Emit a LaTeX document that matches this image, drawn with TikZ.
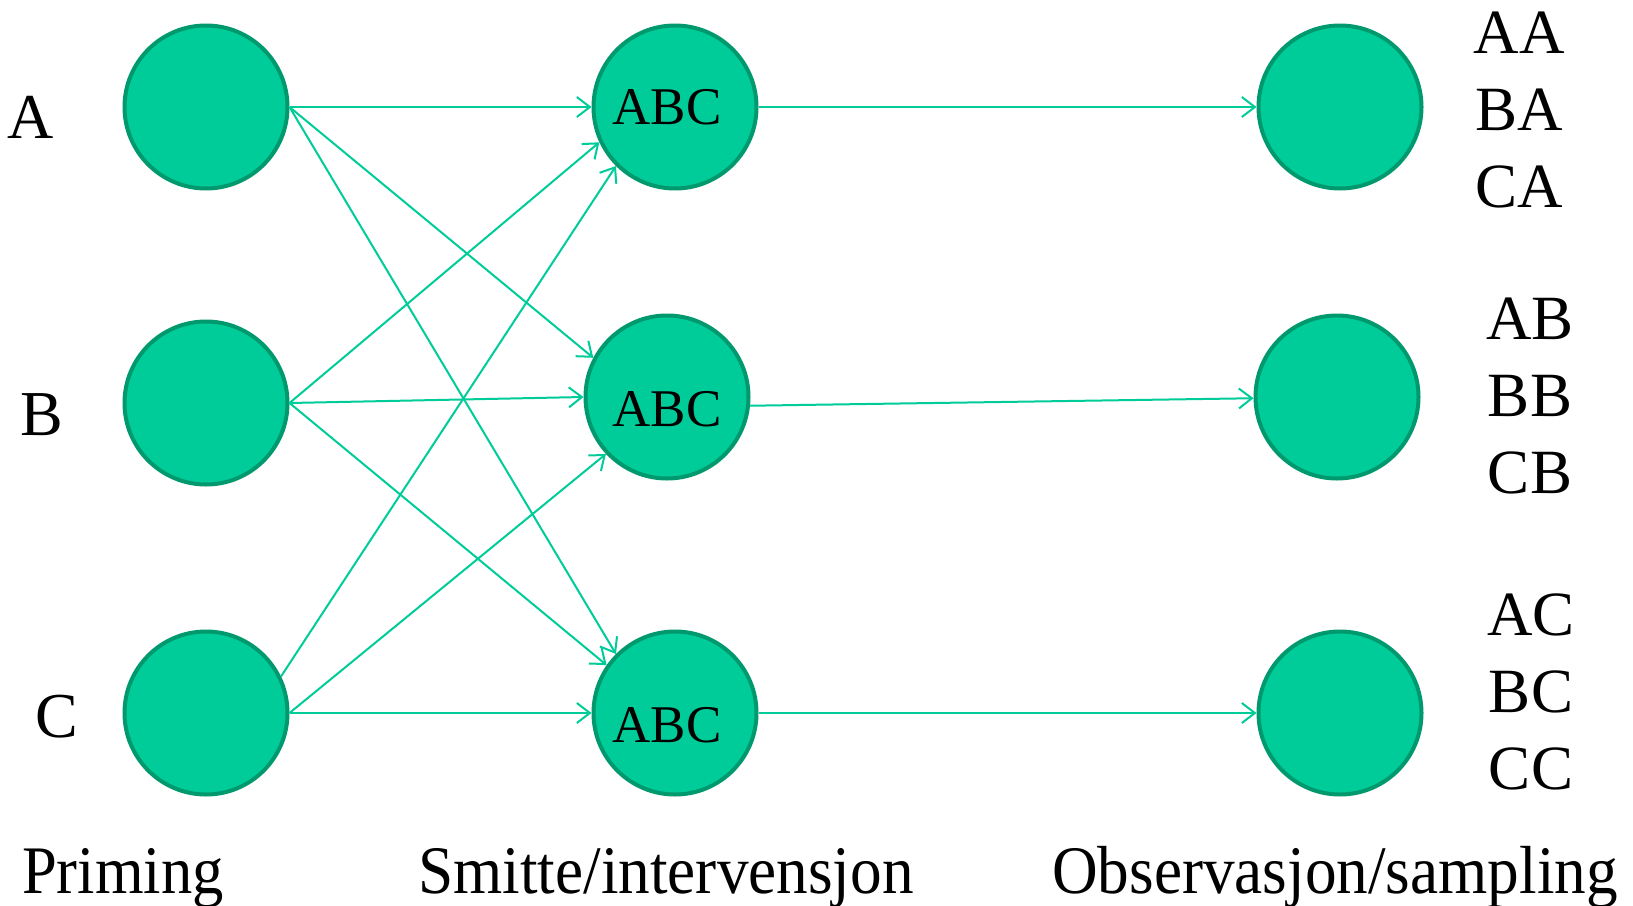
\documentclass[tikz,border=0pt]{standalone}
\usepackage{fontspec}
\setmainfont{Liberation Serif}
\usetikzlibrary{arrows.meta}
\definecolor{smitt}{HTML}{00CC99}
\definecolor{smittkant}{HTML}{00996E}
\begin{document}
\begin{tikzpicture}[x=1pt,y=-1pt]
        \tikzstyle{gruppe}=[circle,fill=smitt,draw=smittkant,line width=4pt,minimum size=163pt,inner sep=0pt,font=\fontsize{53}{53}\selectfont]
        \tikzstyle{pil}=[draw=smitt,line width=2pt,-{Straight Barb[length=13pt,width=20pt,line width=2pt]}]
        \tikzstyle{bokstav}=[font=\fontsize{64}{64}\selectfont,inner sep=0pt]
        \tikzstyle{utfall}=[font=\fontsize{63}{77}\selectfont,align=center,inner sep=0pt,anchor=base]
        \tikzstyle{fase}=[font=\fontsize{68}{68}\selectfont,inner sep=0pt,anchor=base]
        \useasboundingbox (0,0) rectangle (1633,905);
        % priming
        \node[gruppe] (pA) at (206,107) {};
        \node[gruppe] (pB) at (206,403) {};
        \node[gruppe] (pC) at (206,713) {};
        \node[bokstav] (lA) at (31,117) {A};
        \node[bokstav] (lB) at (42,415) {B};
        \node[bokstav] (lC) at (57,717) {C};
        % smitte
        \node[gruppe] (sA) at (675,107) {\hspace*{-16pt}ABC};
        \node[gruppe] (sB) at (667,397) {\raisebox{-12pt}[\height][0pt]{ABC}};
        \node[gruppe] (sC) at (675,713) {\hspace*{-16pt}\raisebox{-12pt}[\height][0pt]{ABC}};
        % observasjon
        \node[gruppe] (oA) at (1340,107) {};
        \node[gruppe] (oB) at (1337,397) {};
        \node[gruppe] (oC) at (1340,713) {};
        \node[utfall] (uA) at (1519,207) {AA\\BA\\CA};
        \node[utfall] (uB) at (1530,493) {AB\\BB\\CB};
        \node[utfall] (uC) at (1531,789) {AC\\BC\\CC};
        % faser
        \node[fase] (fP) at (123,893) {\scalebox{0.92}[1]{Priming}};
        \node[fase] (fS) at (666,893) {\scalebox{0.93}[1]{Smitte/intervensjon}};
        \node[fase] (fO) at (1335,893) {\scalebox{0.93}[1]{Observasjon/sampling}};
        % piler
        \draw[pil] (pA.east) -- (sA.180);
        \draw[pil] (pA.east) -- (sB.152);
        \draw[pil] (pA.east) -- (sC.135);
        \draw[pil] (pB.east) -- (sA.205);
        \draw[pil] (pB.east) -- (sB.180);
        \draw[pil] (pB.east) -- (sC.145);
        \draw[pil] (pC.26) -- (sA.225);
        \draw[pil] (pC.east) -- (sB.223);
        \draw[pil] (pC.east) -- (sC.180);
        \draw[pil] (sA) -- (oA);
        \draw[pil] (sB.-6) -- (oB);
        \draw[pil] (sC) -- (oC);
\end{tikzpicture}
\end{document}
